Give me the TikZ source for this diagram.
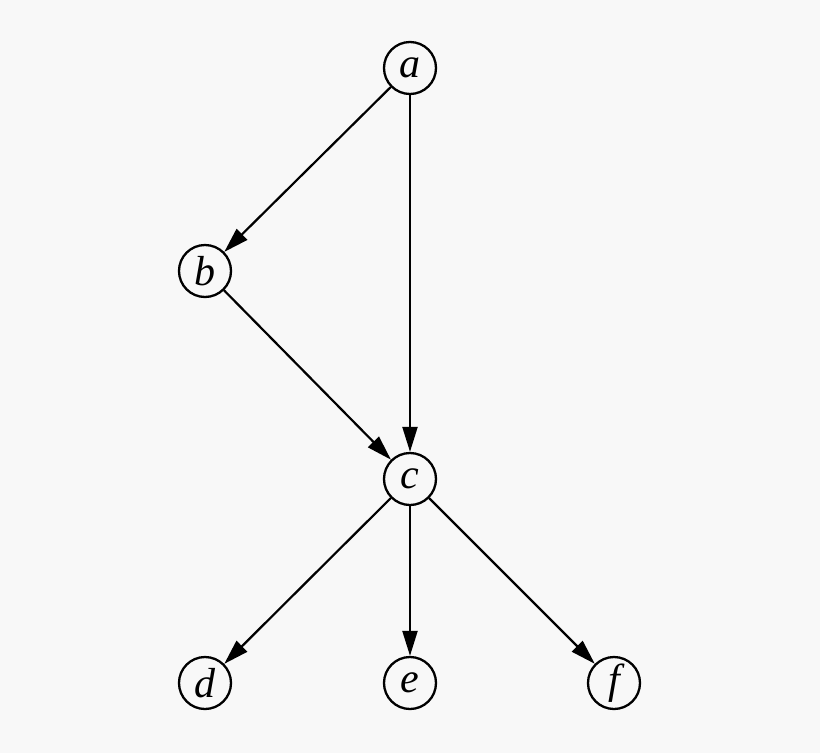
\documentclass[tikz,border=0pt]{standalone}
\usepackage{fontspec}
\setmainfont{Liberation Serif}
\usetikzlibrary{arrows.meta}
\definecolor{bg}{HTML}{F8F8F8}
\begin{document}
\begin{tikzpicture}[x=1pt,y=-1pt,
  vnode/.style={circle,draw=black,line width=2.3pt,minimum size=52pt,inner sep=0pt,
    font=\fontsize{42}{44}\selectfont\itshape},
  edge/.style={draw=black,line width=2.2pt,-{Triangle[length=25pt,width=15pt]},shorten >=0pt}]
\fill[bg] (0,0) rectangle (820,753);
\useasboundingbox (0,0) rectangle (820,753);
\node[vnode] (a) at (410,68) {a};
\node[vnode] (b) at (205,271) {b};
\node[vnode] (c) at (410,479) {c};
\node[vnode] (d) at (205,683) {d};
\node[vnode] (e) at (410,683) {e};
\node[vnode] (f) at (614,683) {f};
\draw[edge] (a) -- (b);
\draw[edge] (a) -- (c);
\draw[edge] (b) -- (c);
\draw[edge] (c) -- (d);
\draw[edge] (c) -- (e);
\draw[edge] (c) -- (f);
\end{tikzpicture}
\end{document}
